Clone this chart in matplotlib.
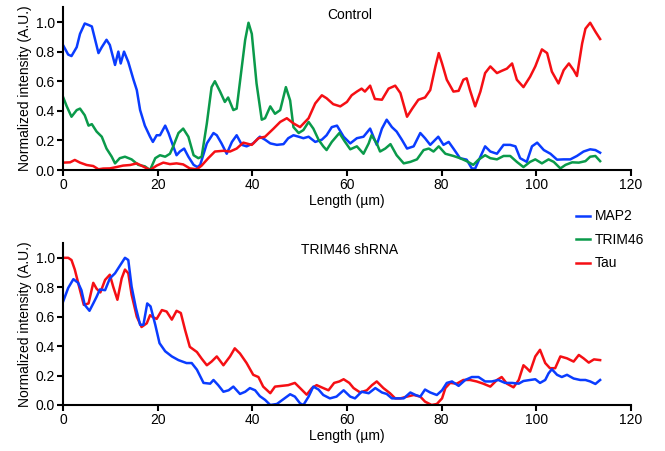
import matplotlib
matplotlib.use("Agg")
import matplotlib.pyplot as plt

plt.rcParams['font.family'] = ['Liberation Sans', 'DejaVu Sans']
plt.rcParams['font.size'] = 10

# ---- Control: MAP2 ----
ctrl_map2_x = [0, 1.1, 1.8, 2.9, 3.6, 4.6, 5.4, 6.1, 6.8, 7.5, 8.2, 9.2, 9.9, 11, 11.7, 12.2, 12.9, 13.8,
               14.9, 15.6, 16.3, 17.3, 18.4, 19, 19.8, 20.5, 21.6, 22.3, 23.3, 24, 24.7, 25.6, 26.5, 27.6,
               28.4, 29, 30.4, 31.8, 32.5, 33.5, 34.6, 35.7, 36.7, 37.8, 38.8, 40.2, 41.6, 42.7, 43.8, 45.2,
               46.6, 47.6, 48.7, 49.8, 50.8, 51.9, 53.3, 54.7, 55.7, 56.8, 57.9, 59.3, 60.7, 62.1, 63.5,
               64.9, 66.3, 67.4, 68.4, 69.5, 70.5, 71.6, 72.7, 74.1, 75.5, 76.5, 77.6, 79.3, 80.4, 81.5,
               82.5, 83.9, 85.3, 86.4, 87.1, 88.2, 89.2, 90.3, 91.7, 93.1, 94.5, 95.6, 96.6, 98, 99.1,
               100.2, 101.6, 103, 104.4, 105.8, 107.2, 108.6, 110, 111.4, 112.5, 113.5]
ctrl_map2_y = [0.845, 0.78, 0.77, 0.83, 0.92, 0.99, 0.98, 0.97, 0.88, 0.79, 0.83, 0.88, 0.845, 0.71, 0.80,
               0.72, 0.80, 0.73, 0.61, 0.54, 0.405, 0.30, 0.225, 0.19, 0.235, 0.235, 0.30, 0.25, 0.16, 0.10,
               0.125, 0.145, 0.09, 0.035, 0.02, 0.035, 0.18, 0.25, 0.235, 0.18, 0.11, 0.19, 0.235, 0.17,
               0.16, 0.18, 0.225, 0.205, 0.18, 0.17, 0.175, 0.215, 0.235, 0.225, 0.215, 0.225, 0.19, 0.205,
               0.235, 0.29, 0.30, 0.225, 0.18, 0.215, 0.225, 0.28, 0.17, 0.28, 0.34, 0.29, 0.26, 0.205,
               0.145, 0.16, 0.25, 0.215, 0.17, 0.225, 0.17, 0.19, 0.145, 0.08, 0.07, 0.01, 0.01, 0.09,
               0.16, 0.125, 0.11, 0.17, 0.17, 0.16, 0.08, 0.055, 0.16, 0.185, 0.135, 0.11, 0.07, 0.072,
               0.072, 0.095, 0.125, 0.14, 0.135, 0.117]

# ---- Control: TRIM46 ----
ctrl_trim_x = [0, 0.8, 1.8, 2.9, 3.6, 4.6, 5.4, 6.1, 7.1, 8.2, 9.2, 10.3, 11, 12, 13.1, 14.5, 15.9, 17.3,
               18.4, 19.5, 20.5, 21.6, 22.6, 23.3, 24.4, 25.4, 26.5, 27.6, 28.6, 29.3, 30.4, 31.4, 32.1,
               33.2, 34.2, 34.9, 36, 36.7, 37.8, 38.5, 39.2, 39.9, 40.9, 42, 42.7, 43.8, 44.8, 45.9, 47.1,
               48, 48.7, 49.8, 50.8, 51.9, 52.9, 54, 55, 55.7, 56.8, 58.4, 59.5, 60.7, 62.1, 63.5, 64.6,
               65.2, 66.3, 67, 68.1, 69.2, 70.5, 72, 73.4, 74.8, 76.2, 77.3, 78.3, 79.4, 80.8, 82.5, 83.9,
               85.3, 86.7, 87.8, 89.2, 90.3, 91.7, 93.1, 94.5, 95.9, 97.3, 98.7, 99.8, 101.2, 102.6, 103.7,
               105.1, 106.2, 107.6, 109, 110.4, 111.4, 112.5, 113.5]
ctrl_trim_y = [0.495, 0.43, 0.36, 0.405, 0.415, 0.37, 0.30, 0.31, 0.26, 0.225, 0.145, 0.09, 0.045, 0.08,
               0.09, 0.072, 0.035, 0.025, 0.0, 0.08, 0.10, 0.09, 0.11, 0.16, 0.25, 0.28, 0.225, 0.10, 0.08,
               0.09, 0.315, 0.56, 0.60, 0.53, 0.46, 0.49, 0.405, 0.415, 0.70, 0.88, 0.995, 0.92, 0.585,
               0.34, 0.35, 0.43, 0.38, 0.405, 0.56, 0.47, 0.29, 0.25, 0.27, 0.325, 0.28, 0.205, 0.16,
               0.135, 0.19, 0.25, 0.195, 0.14, 0.16, 0.11, 0.18, 0.235, 0.18, 0.125, 0.145, 0.175, 0.10,
               0.045, 0.055, 0.072, 0.135, 0.145, 0.125, 0.16, 0.11, 0.095, 0.08, 0.06, 0.035, 0.07, 0.10,
               0.08, 0.072, 0.095, 0.095, 0.055, 0.02, 0.055, 0.072, 0.045, 0.072, 0.055, 0.011, 0.035,
               0.052, 0.05, 0.06, 0.09, 0.095, 0.06]

# ---- Control: Tau ----
ctrl_tau_x = [0, 1.5, 2.5, 3.6, 5, 6.4, 7.5, 8.5, 9.9, 11.3, 12.7, 14.2, 15.6, 17, 18.4, 19.8, 21.2, 22.6,
              24, 25.4, 26.8, 28.3, 29.3, 30.7, 32.1, 33.9, 35.3, 36.7, 38.1, 39.9, 41.3, 42.7, 44.5, 45.9,
              47.3, 48.7, 50.1, 51.9, 53.3, 54.7, 55.7, 57.1, 58.6, 60, 61, 62.1, 63.1, 63.8, 64.9, 65.9,
              67.4, 68.8, 70.2, 71.3, 72.7, 73.8, 75.1, 76.5, 77.6, 78.7, 79.4, 80.1, 81.1, 82.5, 83.6,
              84.6, 85.3, 86, 87.1, 88.2, 89.2, 90.3, 91.7, 92.7, 93.8, 94.9, 95.9, 97.3, 98.7, 99.8,
              101.2, 102.3, 103.3, 104.7, 105.8, 106.9, 107.9, 108.6, 109.7, 110.4, 111.4, 112.5, 113.5]
ctrl_tau_y = [0.05, 0.052, 0.068, 0.05, 0.034, 0.027, 0.005, 0.01, 0.011, 0.02, 0.03, 0.034, 0.045, 0.023,
              0.0, 0.03, 0.05, 0.04, 0.045, 0.038, 0.011, 0.005, 0.03, 0.08, 0.125, 0.13, 0.125, 0.145,
              0.185, 0.17, 0.215, 0.225, 0.28, 0.325, 0.35, 0.315, 0.29, 0.35, 0.45, 0.505, 0.485, 0.445,
              0.43, 0.46, 0.505, 0.53, 0.55, 0.53, 0.57, 0.48, 0.475, 0.55, 0.57, 0.52, 0.36, 0.415,
              0.475, 0.49, 0.54, 0.70, 0.79, 0.72, 0.61, 0.53, 0.535, 0.61, 0.62, 0.54, 0.43, 0.53, 0.655,
              0.70, 0.655, 0.67, 0.685, 0.72, 0.61, 0.56, 0.63, 0.70, 0.815, 0.79, 0.665, 0.585, 0.675,
              0.72, 0.675, 0.635, 0.855, 0.955, 0.995, 0.935, 0.885]

# ---- TRIM46 shRNA: MAP2 ----
kd_map2_x = [0, 1.1, 2.2, 3.2, 3.9, 4.6, 5.6, 6.4, 7.1, 7.8, 8.9, 9.9, 11, 12, 13.1, 13.8, 14.5, 15.4,
             16.3, 17, 17.8, 18.5, 19.5, 20.4, 21.6, 23, 24.4, 26.1, 27.2, 28.3, 29.7, 31.1, 31.8, 32.8,
             33.9, 35, 36, 37.4, 38.5, 39.5, 40.6, 41.6, 42.7, 43.8, 45.2, 46.6, 48, 49, 50.1, 50.8, 51.9,
             52.9, 54, 55, 56.4, 57.8, 59.3, 60.7, 61.7, 63.1, 64.6, 66, 67.4, 68.4, 69.5, 70.5, 72, 73.4,
             74.5, 75.5, 76.5, 77.6, 79, 80.1, 81.1, 82.2, 83.6, 85, 86.4, 87.8, 89.2, 90.6, 92, 93.4,
             94.9, 96.3, 97.3, 98.7, 99.8, 100.8, 101.9, 102.6, 103.3, 104.4, 105.4, 106.5, 107.9, 109.3,
             110.4, 111.4, 112.5, 113.5]
kd_map2_y = [0.70, 0.795, 0.855, 0.83, 0.78, 0.68, 0.64, 0.69, 0.735, 0.785, 0.78, 0.86, 0.895, 0.945, 1.0,
             0.985, 0.805, 0.66, 0.545, 0.545, 0.69, 0.67, 0.545, 0.42, 0.365, 0.33, 0.305, 0.285, 0.285,
             0.24, 0.15, 0.145, 0.17, 0.135, 0.09, 0.10, 0.125, 0.075, 0.09, 0.115, 0.10, 0.06, 0.035, 0.0,
             0.007, 0.04, 0.073, 0.057, 0.011, 0.0, 0.057, 0.125, 0.105, 0.068, 0.045, 0.057, 0.10, 0.057,
             0.045, 0.09, 0.08, 0.115, 0.085, 0.075, 0.045, 0.045, 0.045, 0.085, 0.068, 0.057, 0.105,
             0.085, 0.068, 0.10, 0.15, 0.16, 0.13, 0.17, 0.19, 0.19, 0.16, 0.16, 0.17, 0.15, 0.15, 0.145,
             0.163, 0.17, 0.175, 0.15, 0.17, 0.215, 0.243, 0.205, 0.19, 0.205, 0.18, 0.17, 0.17, 0.16,
             0.143, 0.17]

# ---- TRIM46 shRNA: Tau ----
kd_tau_x = [0, 1.1, 1.8, 2.5, 3.6, 4.4, 5.4, 6.4, 7.1, 7.9, 8.9, 9.9, 10.6, 11.5, 12.4, 13.1, 13.8, 14.5,
            15.6, 16.6, 17.7, 18.4, 19.1, 19.8, 20.9, 21.9, 23, 24, 24.9, 25.8, 26.8, 28.3, 29.3, 30.4,
            31.4, 32.5, 33.9, 35.3, 36.3, 37.4, 38.8, 40.2, 41.3, 42.3, 43.8, 44.8, 46.2, 47.6, 49, 50.1,
            51.5, 52.6, 53.6, 55, 56.1, 57.3, 58.4, 59.3, 60.5, 61.4, 62.8, 64.2, 65.3, 66.3, 67.7, 69.1,
            70.2, 71.3, 72.7, 74.1, 75.5, 76.5, 77.9, 79, 80.1, 80.8, 81.8, 83.2, 84.6, 86, 87.4, 88.8,
            90.3, 91.7, 92.7, 93.8, 95.2, 96.3, 97.3, 98, 98.7, 99.8, 100.8, 101.9, 102.9, 104, 105.1,
            106.5, 107.9, 109, 110, 111.1, 112.2, 113.5]
kd_tau_y = [1.0, 1.0, 0.985, 0.92, 0.78, 0.68, 0.69, 0.83, 0.79, 0.765, 0.85, 0.885, 0.805, 0.715, 0.86,
            0.92, 0.895, 0.75, 0.60, 0.53, 0.555, 0.61, 0.595, 0.585, 0.645, 0.635, 0.58, 0.64, 0.625,
            0.51, 0.395, 0.36, 0.315, 0.27, 0.295, 0.33, 0.27, 0.33, 0.385, 0.35, 0.285, 0.205, 0.19,
            0.125, 0.08, 0.125, 0.13, 0.135, 0.15, 0.115, 0.07, 0.115, 0.135, 0.115, 0.10, 0.15, 0.16,
            0.175, 0.15, 0.115, 0.085, 0.10, 0.135, 0.16, 0.115, 0.08, 0.045, 0.045, 0.057, 0.068, 0.057,
            0.023, 0.0, 0.007, 0.045, 0.115, 0.15, 0.145, 0.17, 0.17, 0.16, 0.145, 0.125, 0.17, 0.19,
            0.145, 0.12, 0.17, 0.27, 0.25, 0.227, 0.33, 0.375, 0.285, 0.25, 0.25, 0.33, 0.317, 0.295,
            0.34, 0.317, 0.288, 0.31, 0.305]

x_ticks = [0, 20, 40, 60, 80, 100, 120]
y_ticks = [0.0, 0.2, 0.4, 0.6, 0.8, 1.0]

c_map2 = '#0a3cff'
c_trim = '#0a9a4a'
c_tau = '#f50f14'
lw = 1.8

fig = plt.figure(figsize=(6.65, 4.51), dpi=100)
ax1 = fig.add_axes([0.0947, 0.623, 0.854, 0.361])
ax2 = fig.add_axes([0.0947, 0.102, 0.854, 0.359])

ax1.plot(ctrl_map2_x, ctrl_map2_y, color=c_map2, lw=lw, label='MAP2')
ax1.plot(ctrl_trim_x, ctrl_trim_y, color=c_trim, lw=lw, label='TRIM46')
ax1.plot(ctrl_tau_x, ctrl_tau_y, color=c_tau, lw=lw, label='Tau')

ax2.plot(kd_tau_x, kd_tau_y, color=c_tau, lw=lw)
ax2.plot(kd_map2_x, kd_map2_y, color=c_map2, lw=lw)

for ax, title in ((ax1, 'Control'), (ax2, 'TRIM46 shRNA')):
    ax.set_xlim(0, 120)
    ax.set_ylim(0, 1.1)
    ax.set_xticks(x_ticks)
    ax.set_yticks(y_ticks)
    ax.set_yticklabels(['%.1f' % v for v in y_ticks])
    for s in ('top', 'right'):
        ax.spines[s].set_visible(False)
    for s in ('left', 'bottom'):
        ax.spines[s].set_linewidth(1.5)
    ax.tick_params(direction='out', length=4, width=1.5, labelsize=10, pad=2)
    ax.set_xlabel('Length (\u00b5m)', fontsize=10, labelpad=1)
    ax.set_ylabel('Normalized intensity (A.U.)', fontsize=10, labelpad=2)
    ax.text(0.505, 0.955, title, transform=ax.transAxes, ha='center', va='center', fontsize=10)

fig.legend(loc='center left', bbox_to_anchor=(0.847, 0.468), frameon=False, fontsize=10,
           handlelength=1.0, handletextpad=0.4, labelspacing=0.68)

fig.savefig('out.png', dpi=100)
